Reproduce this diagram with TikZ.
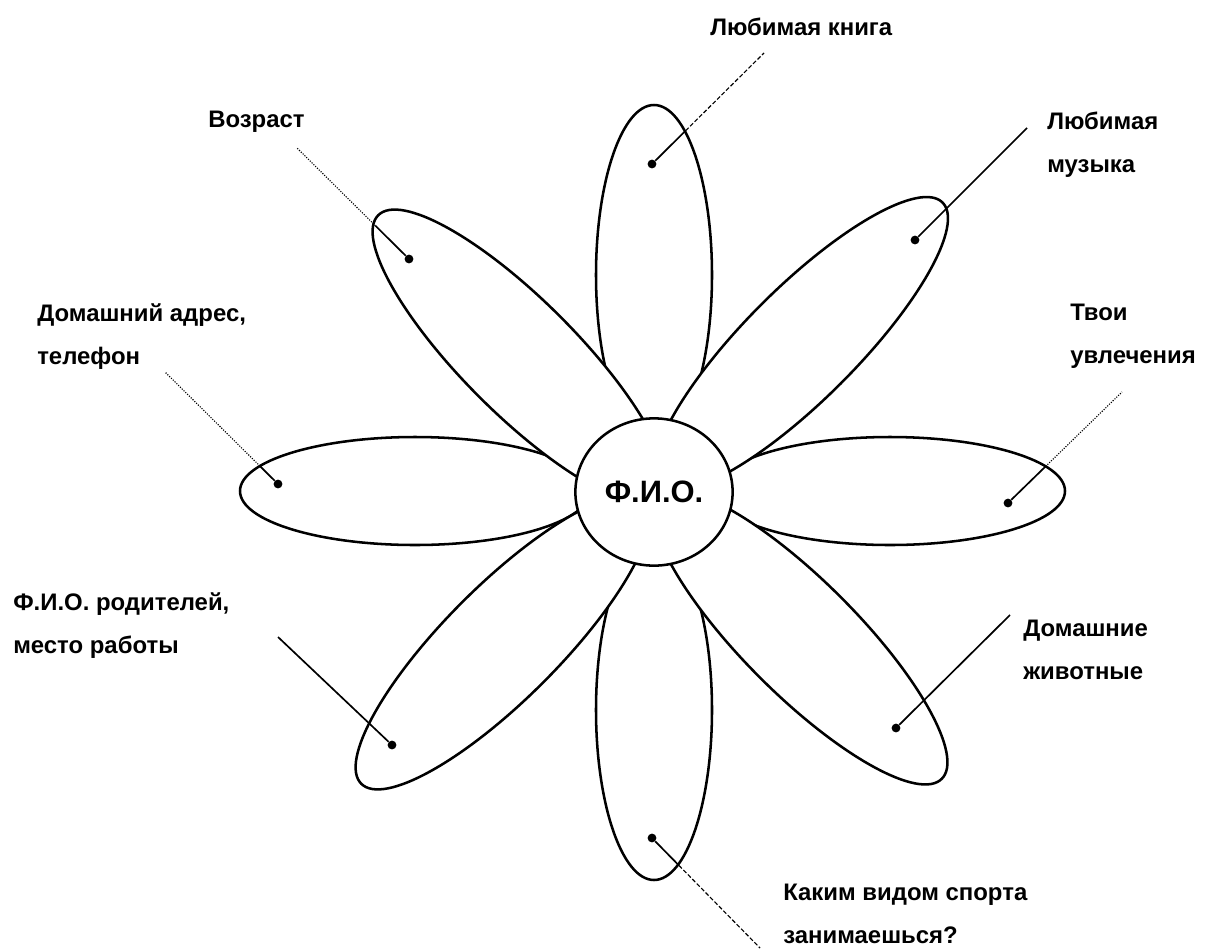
\documentclass[tikz,border=0pt]{standalone}
\usepackage{fontspec}
\setmainfont{Liberation Sans}
\usepackage{tikz}
\usetikzlibrary{calc,shapes.geometric}

\begin{document}
\begin{tikzpicture}[x=0.025cm, y=-0.025cm,
  petal/.style={draw, fill=white, line width=1.8pt},
  hub/.style={ellipse, draw, fill=white, line width=1.8pt, minimum width=3.93cm,
    minimum height=3.68cm, inner sep=0pt, font=\fontsize{22}{26}\selectfont\bfseries},
  dot/.style={circle, fill, inner sep=0pt, minimum size=0.22cm},
  lab/.style={inner sep=0pt, anchor=west, align=left, font=\fontsize{17}{30.6}\selectfont\bfseries},
  stem/.style={line width=1.2pt},
  leadsolid/.style={line width=1.2pt},
  leadfine/.style={line width=0.8pt, densely dotted},
  leaddash/.style={line width=0.8pt, dash pattern=on 3pt off 1.5pt}]
  \useasboundingbox (0,0) rectangle (1211,949);
  % petals: angle/distance/half length/half width, diagonal ones on top
  \foreach \t/\d/\a/\b in {0/236/175/54, 90/216/170/58, 180/239/175/54, 270/219/170/58,
      45/208/200/56, 135/190/200/57, 225/214/200/57, 315/207/200/57}{
    \draw[petal, shift={(654,491)}, rotate=\t] (\d,0) ellipse [x radius=\a, y radius=\b];
  }
  \node[hub] (fio) at (654,492) {Ф.И.О.};
  % dots and leader lines
  \foreach \n/\px/\py/\qx/\qy/\f/\s in {age/409/259/297/148/0.30/leadfine,
      book/652/164/764/53/0.3/leaddash, music/915/240/1027/128/0.31/leadsolid,
      hobby/1008/503/1122/392/0.33/leadfine, pets/896/728/1010/615/0.22/leadsolid,
      sport/652/838/760/948/0.25/leaddash, parents/392/745/278/637/0.23/leadsolid,
      home/278/484/165/372/0.16/leadfine}{
    \node[dot] (d\n) at (\px,\py) {};
    \coordinate (e\n) at (\qx,\qy);
    \coordinate (c\n) at ($(d\n)!\f!(e\n)$);
    \draw[stem] (d\n) -- (c\n);
    \draw[\s] (c\n) -- (e\n);
  }
  % labels
  \node[lab] (tage) at (208,122) {Возраст};
  \node[lab] (tbook) at (710,27) {Любимая книга};
  \node[lab] (tmusic) at (1047,145) {Любимая\\музыка};
  \node[lab] (thobby) at (1070,336) {Твои\\увлечения};
  \node[lab] (thome) at (37,337) {Домашний адрес,\\телефон};
  \node[lab] (tparents) at (13,626) {Ф.И.О. родителей,\\место работы};
  \node[lab] (tpets) at (1023,650) {Домашние\\животные};
  \node[lab] (tsport) at (783,914) {Каким видом спорта\\занимаешься?};
\end{tikzpicture}
\end{document}
